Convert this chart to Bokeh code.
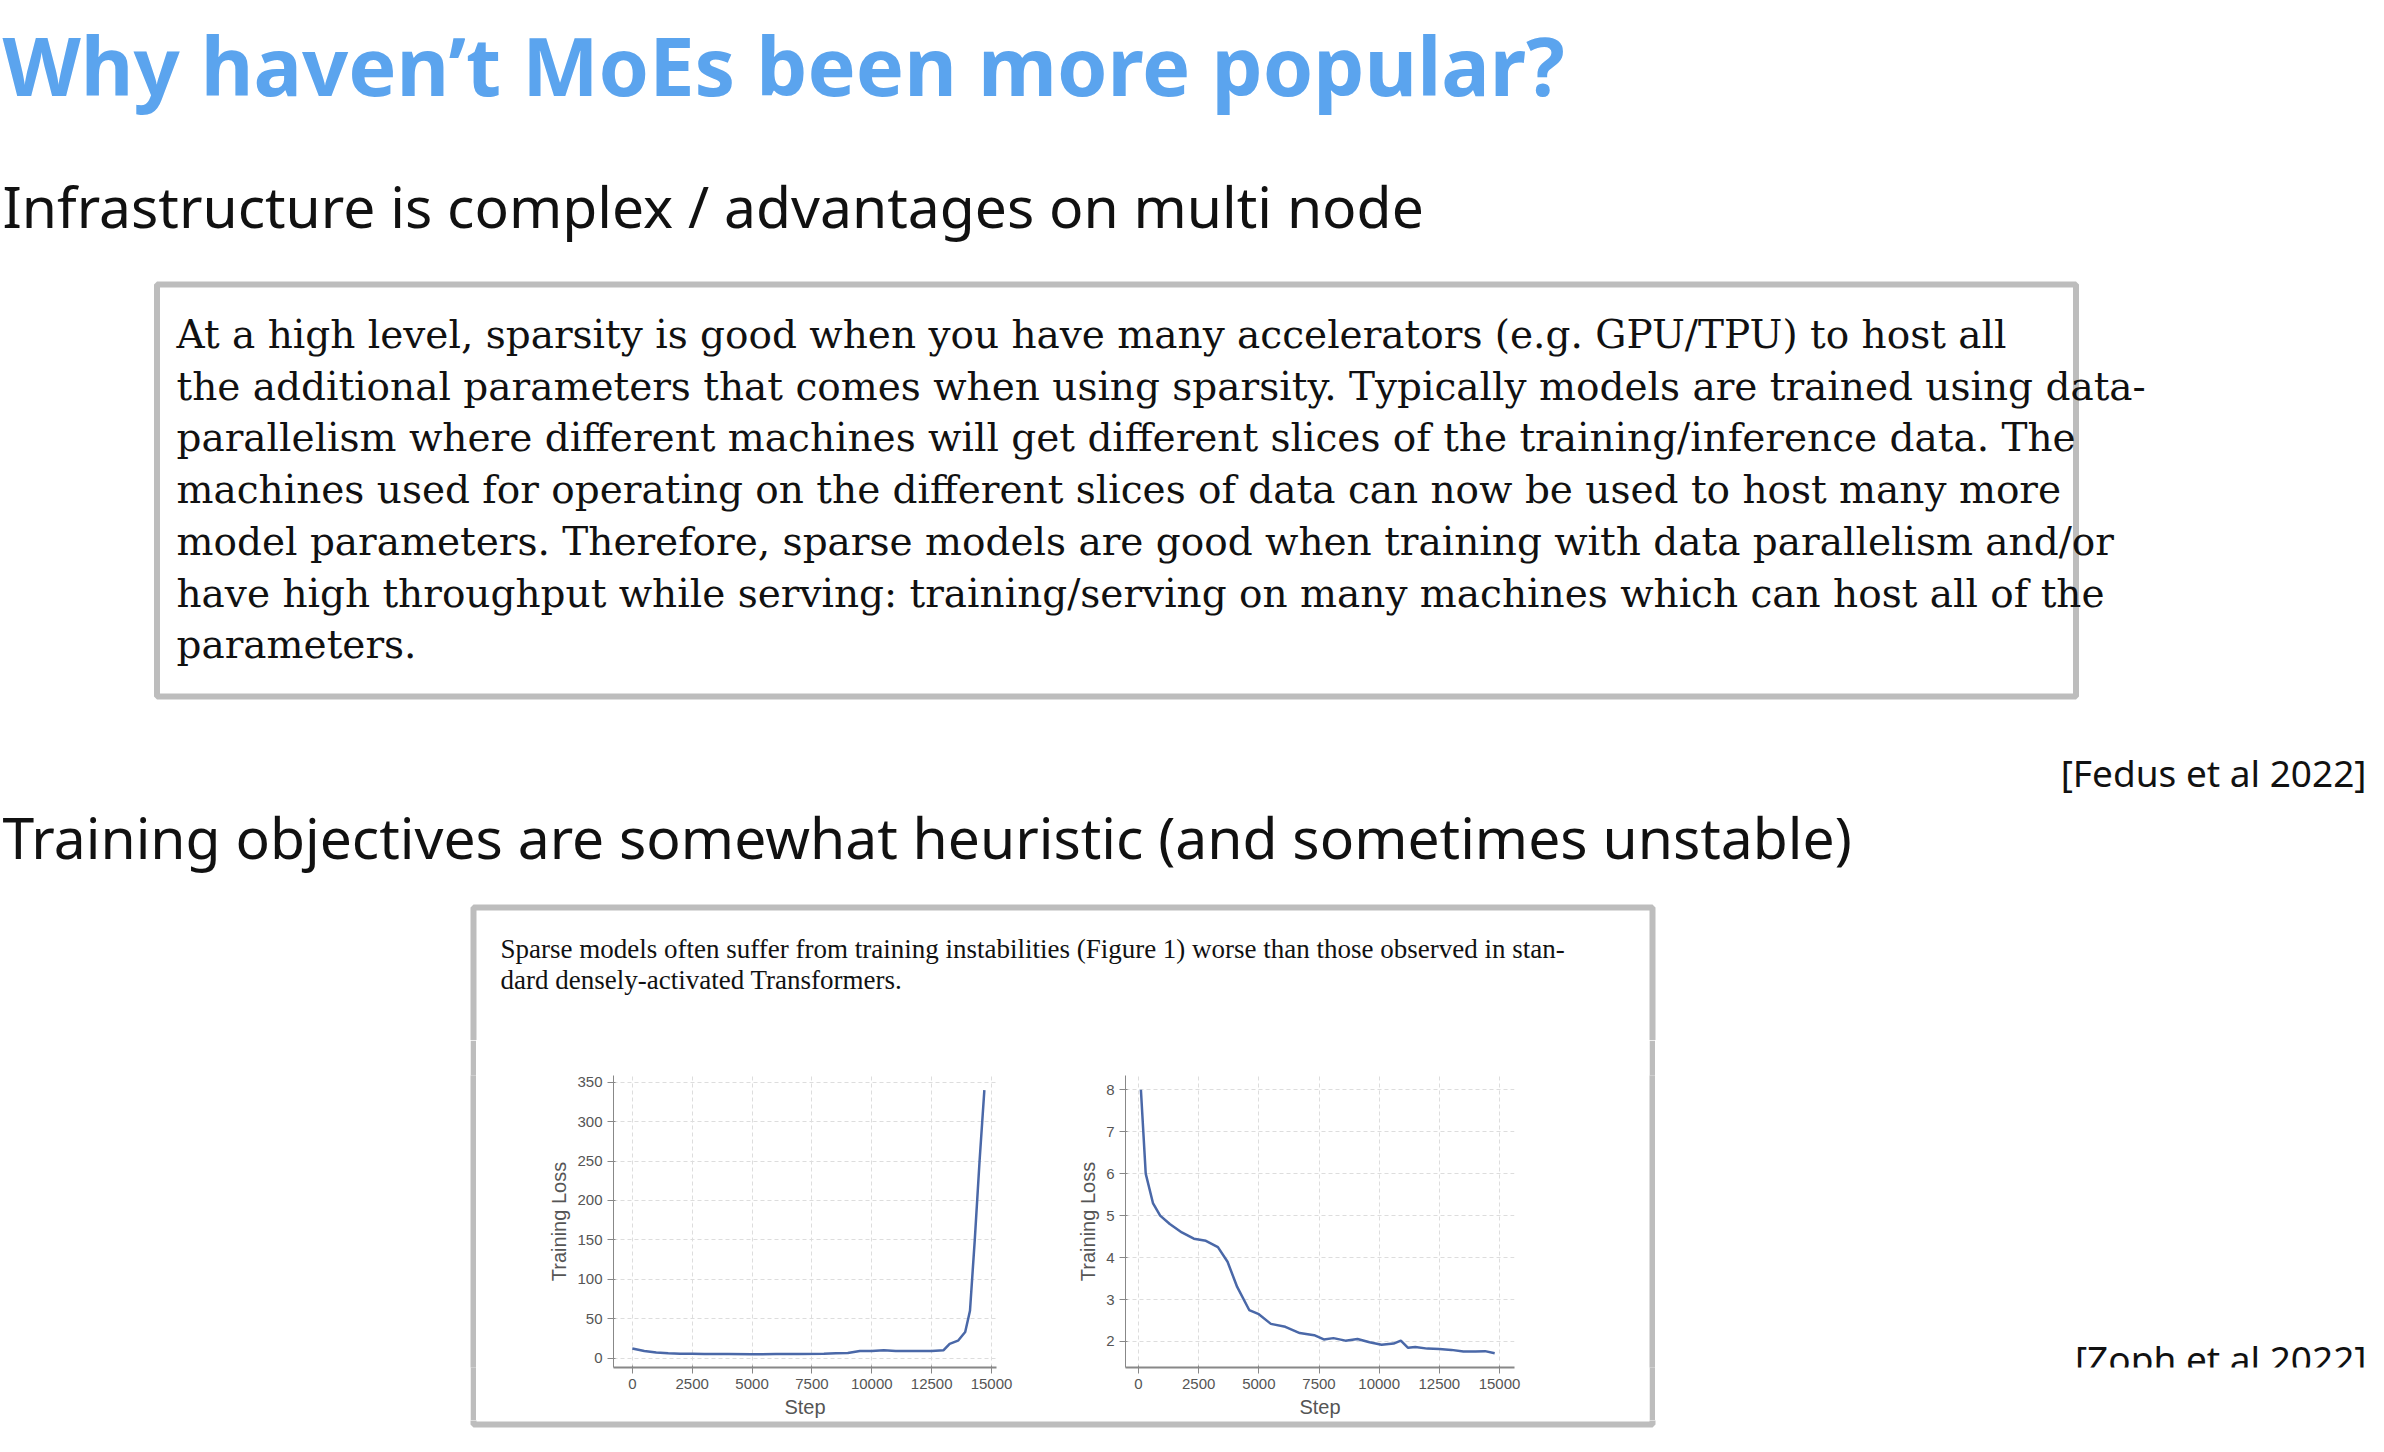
from bokeh.plotting import figure
from bokeh.layouts import column, row
from bokeh.models import Range1d, Label
from bokeh.core.properties import value
from bokeh.embed import file_html
from bokeh.resources import INLINE

TITLE = "Why haven\u2019t MoEs been more popular?"
HEAD1 = "Infrastructure is complex / advantages on multi node"
HEAD2 = "Training objectives are somewhat heuristic (and sometimes unstable)"
QUOTE1 = [
    "At a high level, sparsity is good when you have many accelerators (e.g.  GPU/TPU) to host all",
    "the additional parameters that comes when using sparsity. Typically models are trained using data-",
    "parallelism where different machines will get different slices of the training/inference data.  The",
    "machines used for operating on the different slices of data can now be used to host many more",
    "model parameters.  Therefore, sparse models are good when training with data parallelism and/or",
    "have high throughput while serving: training/serving on many machines which can host all of the",
    "parameters.",
]
QUOTE2 = [
    "Sparse models often suffer from training instabilities (Figure 1) worse than those observed in stan-",
    "dard densely-activated Transformers.",
]
CITE1 = "[Fedus et al 2022]"
CITE2 = "[Zoph et al 2022]"

# left chart: unstable run
steps_a = [0, 500, 1000, 1500, 2000, 2500, 3000, 4000, 5000, 6000, 7000, 8000, 8500, 9000,
           9500, 10000, 10500, 11000, 11500, 12000, 12500, 13000, 13250, 13600, 13900,
           14100, 14300, 14500, 14700]
loss_a = [12, 9, 7, 6, 5.5, 5.5, 5, 5, 4.8, 5, 5, 5.5, 6, 6.5, 9, 9, 10, 9, 9, 9, 9, 10, 18,
          22, 33, 60, 150, 250, 340]
# right chart: stable run
steps_b = [100, 300, 600, 900, 1300, 1800, 2300, 2800, 3300, 3700, 4100, 4600, 5000, 5500,
           6100, 6700, 7300, 7700, 8100, 8600, 9100, 9600, 10100, 10600, 10900, 11200, 11500,
           12000, 12500, 13000, 13500, 14000, 14400, 14800]
loss_b = [8.0, 6.0, 5.3, 5.0, 4.8, 4.6, 4.45, 4.4, 4.25, 3.9, 3.3, 2.75, 2.65, 2.42, 2.35,
          2.2, 2.15, 2.05, 2.08, 2.02, 2.06, 1.98, 1.92, 1.95, 2.02, 1.85, 1.87, 1.83, 1.82,
          1.8, 1.76, 1.76, 1.77, 1.72]

W = 2368
TOP_H = 1040
MID_H = 380
BOT_H = 24
BOX_GRAY = "#bdbdbd"
SANS = value("Noto Sans")


def blank(w, h):
    f = figure(width=w, height=h, x_range=Range1d(0, w), y_range=Range1d(h, 0),
               output_backend="svg", toolbar_location=None, min_border=0)
    f.axis.visible = False
    f.grid.visible = False
    f.outline_line_color = None
    return f


def bar(w, h):
    # solid gray strip used as the box's side edge
    f = blank(w, h)
    f.background_fill_color = BOX_GRAY
    f.border_fill_color = BOX_GRAY
    return f


top = blank(W, TOP_H)
top.text(x=[2], y=[64], text=[TITLE], text_font=SANS, text_font_style="bold",
         text_font_size="81px", text_color="#5ba4ee", text_baseline="middle")
top.text(x=[2], y=[205], text=[HEAD1], text_font=SANS, text_font_size="57px",
         text_color="#111111", text_baseline="middle")
top.rect(x=[1116], y=[490], width=[1919], height=[412], fill_color=None,
         line_color=BOX_GRAY, line_width=6)
top.text(x=[176] * len(QUOTE1), y=[334 + 51.7 * i for i in range(len(QUOTE1))], text=QUOTE1,
         text_font=value("DejaVu Serif"), text_font_size="39px", text_color="#111111",
         text_baseline="middle")
top.text(x=[W - 2], y=[772], text=[CITE1], text_font=SANS, text_font_size="37px",
         text_color="#111111", text_baseline="middle", text_align="right")
top.text(x=[2], y=[836], text=[HEAD2], text_font=SANS, text_font_size="57px",
         text_color="#111111", text_baseline="middle")
top.line(x=[473, 473, 1652, 1652], y=[TOP_H + 5, 907, 907, TOP_H + 5],
         line_color=BOX_GRAY, line_width=6)
top.text(x=[500] * 2, y=[948, 979], text=QUOTE2, text_font=value("Liberation Serif"),
         text_font_size="27px", text_color="#111111", text_baseline="middle")


def chart(w, steps, loss, xr, yr, yticks, bl, br):
    f = figure(width=w, height=MID_H, x_range=Range1d(*xr), y_range=Range1d(*yr),
               output_backend="svg", toolbar_location=None,
               min_border_left=bl, min_border_right=br, min_border_top=35, min_border_bottom=40,
               x_axis_label="Step", y_axis_label="Training Loss")
    f.line(steps, loss, line_color="#4a68a8", line_width=2.5)
    f.xaxis.ticker = [0, 2500, 5000, 7500, 10000, 12500, 15000]
    f.yaxis.ticker = yticks
    f.outline_line_color = None
    f.grid.grid_line_color = "#dddddd"
    f.grid.grid_line_dash = "4 3"
    f.xaxis.axis_line_color = "#888888"
    f.yaxis.axis_line_color = "#888888"
    f.xaxis.axis_line_width = 2
    f.axis.major_tick_line_color = "#888888"
    f.axis.minor_tick_line_color = None
    f.axis.major_label_text_font_size = "15px"
    f.axis.major_label_text_color = "#555555"
    f.axis.major_label_text_font = "Liberation Sans"
    f.axis.axis_label_text_font_size = "20px"
    f.axis.axis_label_text_font_style = "normal"
    f.axis.axis_label_text_color = "#555555"
    f.axis.axis_label_text_font = "Liberation Sans"
    f.axis.axis_label_standoff = 4
    return f


c1 = chart(495, steps_a, loss_a, (-785, 15207), (-12, 358.5),
           [0, 50, 100, 150, 200, 250, 300, 350], 64, 44)
c2 = chart(500, steps_b, loss_b, (-540, 15623), (1.38, 8.34),
           [2, 3, 4, 5, 6, 7, 8], 85, 26)

left = blank(470, MID_H)
left_edge = bar(6, MID_H)
left_gap = blank(69, MID_H)
right_gap = blank(109, MID_H)
right_edge = bar(6, MID_H)
right = blank(W - 1540 - 115, MID_H)
right.add_layout(Label(x=W - 1540 - 115 - 2, y=9, x_units="screen", y_units="screen",
                       text=CITE2, text_font="Noto Sans", text_font_size="37px",
                       text_color="#111111", text_align="right", text_baseline="middle"))

bottom = blank(W, BOT_H)
bottom.line(x=[473, 473, 1652, 1652], y=[-5, 4, 4, -5], line_color=BOX_GRAY, line_width=6)

p = column(top, row(left, left_edge, left_gap, c1, c2, right_gap, right_edge, right, spacing=0),
           bottom, spacing=0)
open("out.html", "w").write(file_html(p, INLINE))
